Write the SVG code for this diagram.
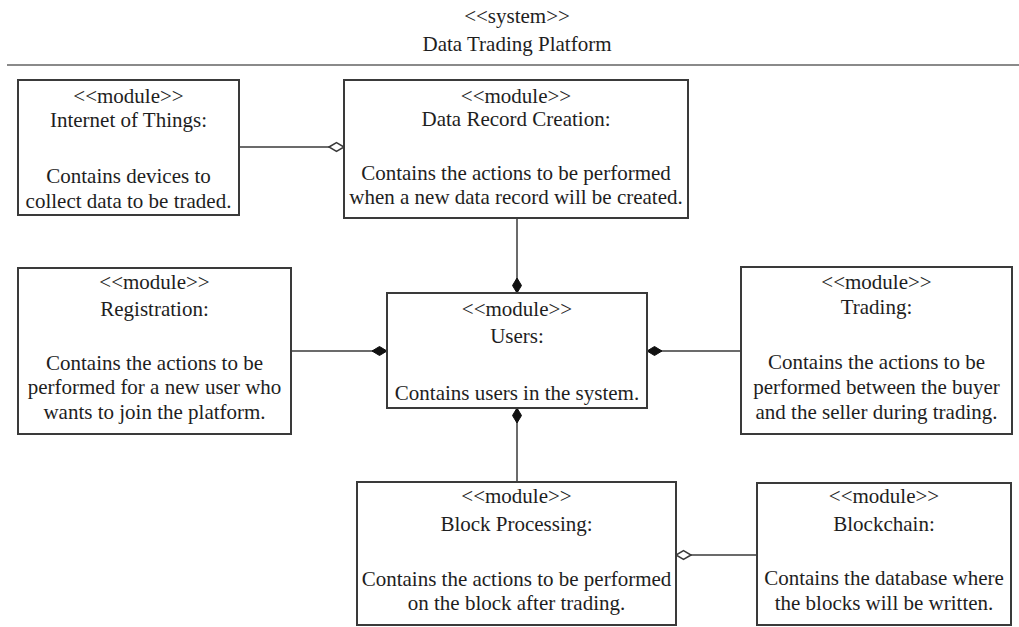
<svg xmlns="http://www.w3.org/2000/svg" width="1019" height="627" viewBox="0 0 1019 627">
  <style>
    .box { fill: #ffffff; stroke: #3a3a3a; stroke-width: 2; }
    .t { font-family: "Liberation Serif", "Times New Roman", serif; font-size: 21px; fill: #1e1e1e; text-anchor: middle; }
    .link { fill: none; stroke: #3a3a3a; stroke-width: 1.5; }
    .filled { marker-end: url(#diamond-filled); }
    .hollow { marker-end: url(#diamond-hollow); }
  </style>
  <defs>
    <marker id="diamond-filled" viewBox="-1 -6 18 12" markerWidth="18" markerHeight="12" refX="15" refY="0" markerUnits="userSpaceOnUse" orient="auto">
      <path d="M0,0 L7.5,-4.5 L15,0 L7.5,4.5 Z" fill="#111111" stroke="#111111" stroke-width="1"/>
    </marker>
    <marker id="diamond-hollow" viewBox="-1 -6 18 12" markerWidth="18" markerHeight="12" refX="15" refY="0" markerUnits="userSpaceOnUse" orient="auto">
      <path d="M0,0 L7.5,-4.5 L15,0 L7.5,4.5 Z" fill="#ffffff" stroke="#3a3a3a" stroke-width="1.5"/>
    </marker>
  </defs>

  <rect width="1019" height="627" fill="#ffffff"/>

  <!-- system header -->
  <g id="system">
    <text class="t" x="517" y="23">&lt;&lt;system&gt;&gt;</text>
    <text class="t" x="517" y="51">Data Trading Platform</text>
    <line x1="7" y1="65" x2="1019" y2="65" stroke="#8a8a8a" stroke-width="2"/>
  </g>

  <!-- connectors -->
  <g id="connectors">
    <path class="link hollow" d="M239,147 L344,147"/>
    <path class="link filled" d="M517,218 L517,293"/>
    <path class="link filled" d="M291,351 L387,351"/>
    <path class="link filled" d="M741,351 L647,351"/>
    <path class="link filled" d="M517,482 L517,408"/>
    <path class="link hollow" d="M757,555 L676,555"/>
  </g>

  <g id="internet-of-things">
    <rect class="box" x="18" y="80" width="221" height="135"/>
    <text class="t" x="128.5" y="103">&lt;&lt;module&gt;&gt;</text>
    <text class="t" x="128.5" y="127">Internet of Things:</text>
    <text class="t" x="128.5" y="183">Contains devices to</text>
    <text class="t" x="128.5" y="208">collect data to be traded.</text>
  </g>

  <g id="data-record-creation">
    <rect class="box" x="344" y="80" width="344" height="138"/>
    <text class="t" x="516" y="103">&lt;&lt;module&gt;&gt;</text>
    <text class="t" x="516" y="126">Data Record Creation:</text>
    <text class="t" x="516" y="180">Contains the actions to be performed</text>
    <text class="t" x="516" y="204">when a new data record will be created.</text>
  </g>

  <g id="registration">
    <rect class="box" x="18" y="268" width="273" height="166"/>
    <text class="t" x="154.5" y="289">&lt;&lt;module&gt;&gt;</text>
    <text class="t" x="154.5" y="316">Registration:</text>
    <text class="t" x="154.5" y="370">Contains the actions to be</text>
    <text class="t" x="154.5" y="394">performed for a new user who</text>
    <text class="t" x="154.5" y="419">wants to join the platform.</text>
  </g>

  <g id="users">
    <rect class="box" x="387" y="293" width="260" height="115"/>
    <text class="t" x="517" y="316">&lt;&lt;module&gt;&gt;</text>
    <text class="t" x="517" y="343">Users:</text>
    <text class="t" x="517" y="400">Contains users in the system.</text>
  </g>

  <g id="trading">
    <rect class="box" x="741" y="267" width="271" height="167"/>
    <text class="t" x="876.5" y="289">&lt;&lt;module&gt;&gt;</text>
    <text class="t" x="876.5" y="314">Trading:</text>
    <text class="t" x="876.5" y="369">Contains the actions to be</text>
    <text class="t" x="876.5" y="394">performed between the buyer</text>
    <text class="t" x="876.5" y="419">and the seller during trading.</text>
  </g>

  <g id="block-processing">
    <rect class="box" x="357" y="482" width="319" height="143"/>
    <text class="t" x="516.5" y="503">&lt;&lt;module&gt;&gt;</text>
    <text class="t" x="516.5" y="531">Block Processing:</text>
    <text class="t" x="516.5" y="586">Contains the actions to be performed</text>
    <text class="t" x="516.5" y="610">on the block after trading.</text>
  </g>

  <g id="blockchain">
    <rect class="box" x="757" y="483" width="254" height="142"/>
    <text class="t" x="884" y="503">&lt;&lt;module&gt;&gt;</text>
    <text class="t" x="884" y="531">Blockchain:</text>
    <text class="t" x="884" y="585">Contains the database where</text>
    <text class="t" x="884" y="610">the blocks will be written.</text>
  </g>
</svg>
